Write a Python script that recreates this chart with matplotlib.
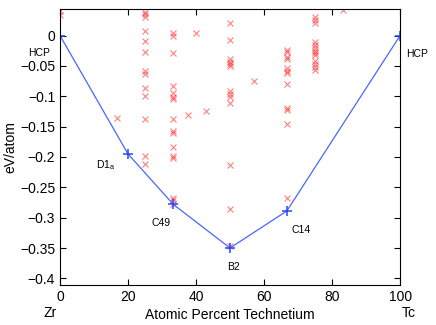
import numpy as np
import matplotlib
matplotlib.use('Agg')
import matplotlib.pyplot as plt

plt.rcParams['font.family'] = ['Liberation Sans', 'DejaVu Sans']

# 計算結構 (組成 %Tc, 形成能 eV/atom)
calc_x = [0, 0,
          25, 25, 25, 25, 25, 25, 25, 25, 25, 25, 25, 25, 25,
          33.3, 33.3, 33.3, 33.3, 33.3, 33.3, 33.3, 33.3, 33.3, 33.3, 33.3, 33.3, 33.3, 33.3, 33.3, 33.3,
          16.7, 37.5, 40, 42.9,
          50, 50, 50, 50, 50, 50, 50, 50, 50, 50, 50, 50, 50,
          57.1,
          66.7, 66.7, 66.7, 66.7, 66.7, 66.7, 66.7, 66.7, 66.7, 66.7, 66.7, 66.7,
          75, 75, 75, 75, 75, 75, 75, 75, 75, 75, 75, 75, 75,
          83.3]
calc_y = [0.040, 0.034,
          0.039, 0.036, 0.031, 0.007, -0.009, -0.027, -0.058, -0.063, -0.086, -0.099, -0.138, -0.199, -0.212,
          0.004, -0.001, -0.029, -0.083, -0.095, -0.101, -0.105, -0.138, -0.158, -0.160, -0.183, -0.198, -0.202, -0.268, -0.271, -0.278,
          -0.136, -0.130, 0.004, -0.124,
          0.020, -0.007, -0.038, -0.043, -0.047, -0.050, -0.091, -0.097, -0.101, -0.111, -0.213, -0.285, -0.346,
          -0.075,
          -0.023, -0.027, -0.035, -0.039, -0.053, -0.058, -0.062, -0.079, -0.120, -0.123, -0.145, -0.267,
          0.030, 0.026, 0.021, -0.010, -0.016, -0.021, -0.025, -0.028, -0.032, -0.042, -0.046, -0.051, -0.057,
          0.042]

# 凸包
hull_x = [0, 20, 33.3, 50, 66.7, 100]
hull_y = [0, -0.195, -0.278, -0.350, -0.289, 0]

# 結構標籤
lab_text = ['HCP', 'HCP', 'D1$_{\\mathregular{a}}$', 'C49', 'B2', 'C14']
lab_x = [-9.4, 101.7, 10.6, 27, 49, 68.1]
lab_y = [-0.029, -0.030, -0.214, -0.308, -0.382, -0.320]

fig = plt.figure(figsize=(4.36, 3.25), dpi=100)
ax = fig.add_axes([0.1376, 0.123, 0.78, 0.849])

ax.plot(calc_x, calc_y, 'x', color='red', alpha=0.5, markersize=4.5, markeredgewidth=0.8)
ax.plot(hull_x, hull_y, '-', color='#4a66ff', linewidth=0.9)
ax.plot(hull_x, hull_y, '+', color='#2a44ff', markersize=7, markeredgewidth=1.1)

for t, x, y in zip(lab_text, lab_x, lab_y):
    ax.text(x, y, t, fontsize=7.5, ha='left', va='center', clip_on=False)

ax.set_xlim(0, 100)
ax.set_ylim(-0.411, 0.0437)
ax.set_xticks([0, 20, 40, 60, 80, 100])
ax.set_yticks(np.arange(-0.4, 0.01, 0.05))
ax.set_yticklabels(['\u22120.4', '\u22120.35', '\u22120.3', '\u22120.25', '\u22120.2',
                    '\u22120.15', '\u22120.1', '\u22120.05', '0'])
ax.tick_params(direction='in', labelsize=10, top=True, right=True, length=4)
ax.set_xlabel('Atomic Percent Technetium', fontsize=10, labelpad=3)
ax.set_ylabel('eV/atom', fontsize=10, labelpad=2)
# 兩端元素名, 與 xlabel 同一行
trans = ax.get_xaxis_transform()
ax.text(-2.9, -0.10, 'Zr', fontsize=10, ha='center', va='center', transform=trans, clip_on=False)
ax.text(102.6, -0.10, 'Tc', fontsize=10, ha='center', va='center', transform=trans, clip_on=False)

plt.savefig('out.png', dpi=100)
